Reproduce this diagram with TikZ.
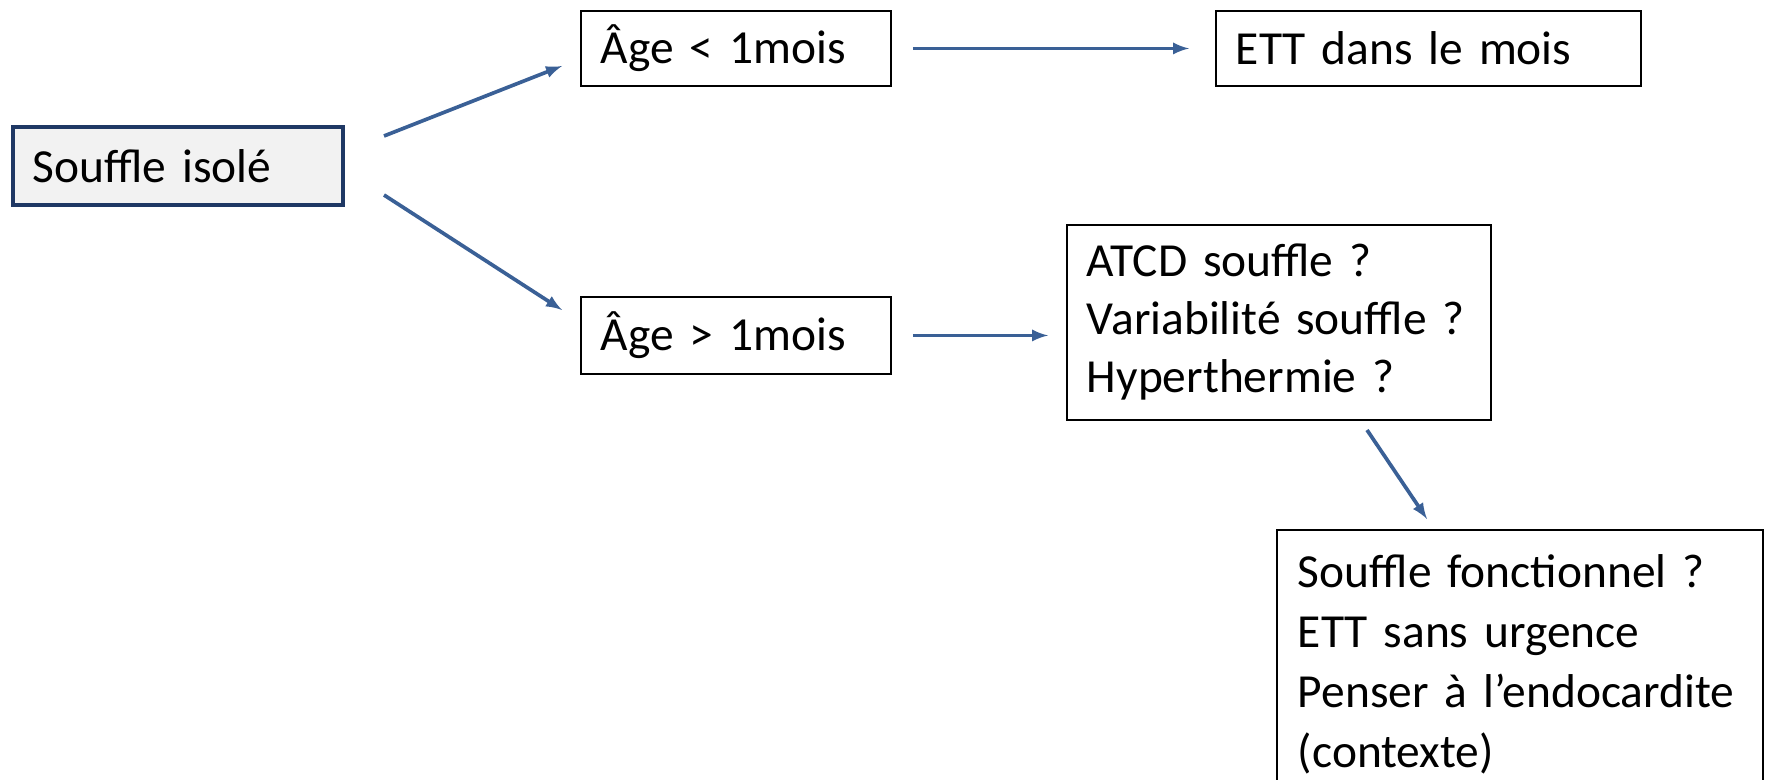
\documentclass[tikz,border=0pt]{standalone}
\usepackage{fontspec}
\setmainfont{Carlito}
\definecolor{bleu}{RGB}{58,96,150}
\definecolor{marine}{RGB}{31,56,100}
\definecolor{gris}{RGB}{242,242,242}

\begin{document}
\begin{tikzpicture}[
  box/.style={draw, line width=1.1pt, inner xsep=0.4cm, align=left, anchor=north west, font=\fontsize{27}{32}\selectfont},
  fleche/.style={bleu, line width=2.1pt, >=latex, ->}]
\useasboundingbox (0,0) rectangle (35.34,-15.6);

\node[box, fill=gris, draw=marine, line width=2pt, text width=5.8cm, minimum height=1.56cm] (S) at (0.22,-2.5) {Souffle isolé};
\node[box, text width=5.4cm, minimum height=1.5cm] (A1) at (11.6,-0.2) {Âge < 1mois};
\node[box, text width=7.7cm, minimum height=1.5cm] (E) at (24.3,-0.2) {ETT dans le mois};
\node[box, text width=5.4cm, minimum height=1.54cm] (A2) at (11.6,-5.92) {Âge > 1mois};
\node[box, text width=7.68cm, minimum height=3.9cm, font=\fontsize{27}{33}\selectfont] (Q) at (21.32,-4.48) {ATCD souffle ?\\Variabilité souffle ?\\Hyperthermie ?};
\node[box, draw=none, text width=8.88cm, inner ysep=0.48cm, font=\fontsize{27}{34}\selectfont] (F) at (25.54,-10.6) {Souffle fonctionnel ?\\ETT sans urgence\\Penser à l’endocardite\\(contexte)};
\draw[line width=1.1pt] (F.south west) -- (F.north west) -- (F.north east) -- (F.south east);

\coordinate (d1) at (7.68,-2.72);
\coordinate (f1) at (11.24,-1.32);
\coordinate (d2) at (7.68,-3.9);
\coordinate (f2) at (11.24,-6.2);
\coordinate (d5) at (27.34,-8.6);
\coordinate (f5) at (28.54,-10.38);

\draw[fleche] (d1) -- (f1);
\draw[fleche] (d2) -- (f2);
\draw[fleche, shorten <=0.42cm, shorten >=0.52cm] (A1.east) -- (E.west);
\draw[fleche, shorten <=0.42cm, shorten >=0.36cm] (A2.east) -- (A2.east -| Q.west);
\draw[fleche] (d5) -- (f5);
\end{tikzpicture}
\end{document}
